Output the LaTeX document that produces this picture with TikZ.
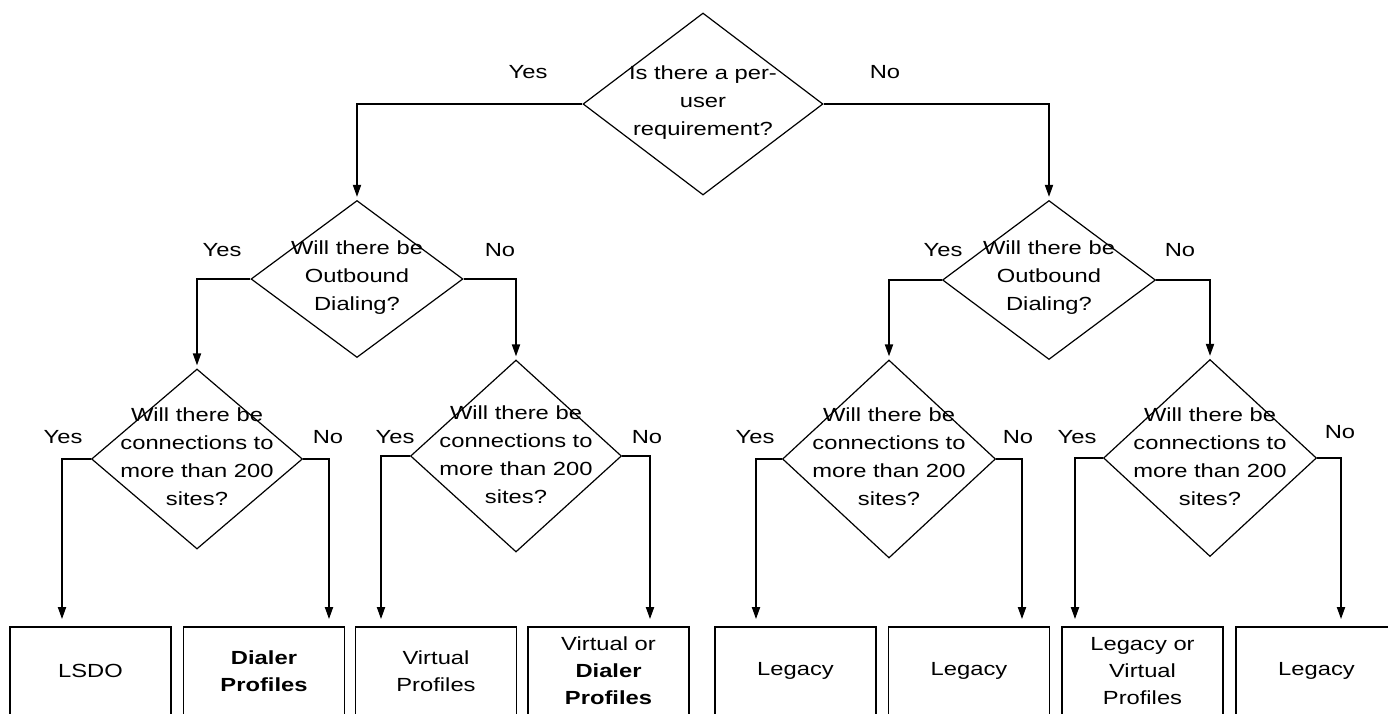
\documentclass[tikz,border=0pt]{standalone}
\usepackage{fontspec}
\setmainfont[FakeStretch=1.25]{Liberation Sans}
\usetikzlibrary{shapes.geometric,arrows.meta}
\begin{document}
\begin{tikzpicture}[x=0.5pt,y=-0.5pt,
  dia/.style={draw, diamond, inner sep=0pt, line width=0.6pt},
  qtext/.style={align=center, inner sep=0pt, font=\fontsize{9.5}{14}\selectfont},
  lbl/.style={inner sep=0pt, font=\fontsize{9.5}{14}\selectfont},
  res/.style={draw, line width=0.9pt, minimum width=80.5pt, minimum height=44pt, inner sep=0pt, align=center, font=\fontsize{9.5}{13.5}\selectfont},
  conn/.style={line width=0.9pt, -{Triangle[length=6pt,width=4pt]}, shorten >=1.5pt},
  connb/.style={conn, shorten >=3.5pt},
]
\useasboundingbox (0,0) rectangle (1388,713);
\clip (0,0) rectangle (1388,713);

% diamonds
\node[dia, minimum width=120pt, minimum height=91pt] (d0) at (703,104) {};
\node[dia, minimum width=106pt, minimum height=78.5pt] (d1) at (357,279) {};
\node[dia, minimum width=106.5pt, minimum height=79.5pt] (d2) at (1049,280) {};
\node[dia, minimum width=105.5pt, minimum height=90pt] (d3) at (197,459) {};
\node[dia, minimum width=105.5pt, minimum height=96pt] (d4) at (516,456) {};
\node[dia, minimum width=106.5pt, minimum height=99pt] (d5) at (889,459) {};
\node[dia, minimum width=106.5pt, minimum height=98.5pt] (d6) at (1210,458) {};

% question texts
\node[qtext] (t0) at (703,103) {Is there a per-\\user\\requirement?};
\node[qtext] (t1) at (357,278) {Will there be\\Outbound\\Dialing?};
\node[qtext] (t2) at (1049,278) {Will there be\\Outbound\\Dialing?};
\node[qtext] (t3) at (197,457) {Will there be\\connections to\\more than 200\\sites?};
\node[qtext] (t4) at (516,455) {Will there be\\connections to\\more than 200\\sites?};
\node[qtext] (t5) at (889,457) {Will there be\\connections to\\more than 200\\sites?};
\node[qtext] (t6) at (1210,457) {Will there be\\connections to\\more than 200\\sites?};

% result boxes
\node[res] (b1) at (90.5,671) {LSDO};
\node[res] (b2) at (264,671) {\textbf{Dialer}\\\textbf{Profiles}};
\node[res] (b3) at (436,671) {Virtual\\Profiles};
\node[res] (b4) at (608.5,671) {Virtual or\\\textbf{Dialer}\\\textbf{Profiles}};
\node[res] (b5) at (795.5,671) {Legacy};
\node[res] (b6) at (969,671) {Legacy};
\node[res] (b7) at (1142.5,671) {Legacy or\\Virtual\\Profiles};
\node[res] (b8) at (1316.5,671) {Legacy};

% labels
\node[lbl] (y0) at (528,72) {Yes};
\node[lbl] (n0) at (885,72) {No};
\node[lbl] (y1) at (222,250) {Yes};
\node[lbl] (n1) at (500,250) {No};
\node[lbl] (y2) at (943,250) {Yes};
\node[lbl] (n2) at (1180,250) {No};
\node[lbl] (y3) at (63,437) {Yes};
\node[lbl] (n3) at (328,437) {No};
\node[lbl] (y4) at (395,437) {Yes};
\node[lbl] (n4) at (647,437) {No};
\node[lbl] (y5) at (755,437) {Yes};
\node[lbl] (n5) at (1018,437) {No};
\node[lbl] (y6) at (1077,437) {Yes};
\node[lbl] (n6) at (1340,432) {No};

% connectors
\draw[conn] (d0.west) -| (d1.north);
\draw[conn] (d0.east) -| (d2.north);
\draw[conn] (d1.west) -| (d3.north);
\draw[conn] (d1.east) -| (d4.north);
\draw[conn] (d2.west) -| (d5.north);
\draw[conn] (d2.east) -| (d6.north);
\draw[connb] (d3.west) -| ([xshift=-14.25pt]b1.north);
\draw[connb] (d3.east) -| ([xshift=32.5pt]b2.north);
\draw[connb] (d4.west) -| ([xshift=-27.5pt]b3.north);
\draw[connb] (d4.east) -| ([xshift=20.75pt]b4.north);
\draw[connb] (d5.west) -| ([xshift=-19.75pt]b5.north);
\draw[connb] (d5.east) -| ([xshift=26.5pt]b6.north);
\draw[connb] (d6.west) -| ([xshift=-33.75pt]b7.north);
\draw[connb] (d6.east) -| ([xshift=12.25pt]b8.north);
\end{tikzpicture}
\end{document}
